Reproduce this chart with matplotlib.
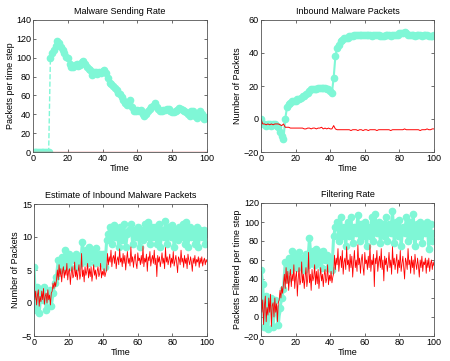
import numpy as np
import matplotlib
matplotlib.use("Agg")
import matplotlib.pyplot as plt

plt.rcParams['font.family'] = ['Liberation Sans', 'DejaVu Sans']
plt.rcParams['font.size'] = 6.5

# --- data ---
time = np.arange(0, 101)           # one sample per time unit
fine_time = np.arange(0, 100.5, 0.5)  # noisy red traces, two samples per unit

sent_cyan = [0, 0, 0, 0, 0, 0, 0, 0, 0, 0, 100,
             105, 108, 112, 118, 116, 111, 108, 105, 101, 100,
             93, 90, 90, 92, 93, 91, 92, 95, 96, 93,
             90, 88, 87, 82, 85, 85, 83, 85, 84, 86,
             87, 84, 78, 73, 72, 70, 68, 66, 63, 62,
             58, 55, 52, 50, 52, 55, 48, 43, 43, 45,
             43, 45, 40, 38, 40, 43, 46, 48, 49, 52,
             48, 46, 44, 44, 45, 45, 46, 46, 43, 42,
             42, 43, 45, 47, 46, 45, 44, 42, 40, 38,
             44, 43, 38, 36, 40, 43, 40, 35, 36, 37]
sent_red = [0.0] * 101

inbound_cyan = [0, -3, -3, -4, -3, -3, -4, -3, -3, -4, -5,
                -8, -10, -12, 0, 7, 9, 10, 11, 11, 11,
                12, 12, 13, 14, 14, 15, 16, 17, 18, 18,
                18, 18, 19, 19, 19, 19, 19, 18, 18, 17,
                16, 25, 38, 43, 45, 47, 48, 49, 49, 49,
                50, 50, 50, 51, 51, 51, 51, 51, 51, 51,
                51, 51, 51, 50, 51, 51, 51, 51, 50, 50,
                50, 51, 51, 51, 50, 51, 51, 51, 51, 52,
                52, 52, 53, 52, 51, 51, 51, 51, 50, 51,
                51, 51, 50, 51, 51, 51, 50, 50, 50, 51]
inbound_red = [0, -3, -3, -3.5, -3, -3.5, -3, -3.5, -3, -3, -3,
               -3.5, -4, -3, -5, -5, -5, -5.5, -5.5, -5.5, -5.5,
               -5.5, -5.5, -5.5, -5.5, -6, -6, -5.5, -5.5, -6, -5.5,
               -5.5, -6, -5.5, -5.5, -5, -6, -5.5, -6, -5.5, -6,
               -6, -4, -6, -6.5, -6.5, -6.5, -6.5, -6.5, -6.5, -6.5,
               -6.5, -7, -6.5, -6.5, -6.5, -7, -6.5, -6.5, -7, -6.5,
               -6.5, -7, -6.5, -6.5, -6.5, -6.5, -7, -6.5, -6.5, -6.5,
               -6.5, -6.5, -6.5, -6.5, -7, -6.5, -6.5, -6.5, -6.5, -6.5,
               -6.5, -6.5, -6, -6.5, -6.5, -6.5, -6.5, -6.5, -6.5, -6.5,
               -6.5, -7, -6.5, -6.5, -6.5, -6, -6.5, -6.5, -6, -6]

est_cyan = [5.5, -1.0, 2.5, -1.5, 1.5, 0.5, 2.5, -1.0, 1.0, 2.0, -0.5,
            1.5, 3.0, 4.0, 6.5, 5.0, 7.0, 5.5, 8.0, 6.0, 7.5,
            5.5, 7.0, 6.5, 7.5, 5.5, 7.0, 6.0, 9.3, 6.5, 8.0,
            6.0, 8.5, 7.0, 8.0, 6.0, 8.3, 6.5, 7.5, 6.0, 7.5,
            5.5, 9.5, 10.5, 11.5, 9.0, 11.8, 10.0, 11.0, 8.5, 11.5,
            9.5, 12.0, 8.5, 10.5, 11.0, 12.0, 9.0, 11.0, 10.0, 11.5,
            8.5, 11.0, 9.5, 12.0, 10.0, 12.3, 9.0, 11.5, 10.0, 11.5,
            9.0, 12.0, 8.5, 11.0, 10.0, 12.5, 9.0, 11.5, 10.0, 11.8,
            8.5, 11.0, 9.5, 11.5, 10.0, 12.0, 9.0, 12.2, 8.5, 11.5,
            10.0, 11.0, 9.0, 11.5, 8.5, 11.0, 10.0, 11.0, 9.0, 10.5]
est_red = [5.0, 0.5, 1.8, -0.3, 1.2, 2.0, -0.5, 1.0, 0.2, 1.8,
           0.5, 2.2, -0.2, 1.0, 1.5, 0.0, 2.0, 0.5, 1.2, -0.3, 1.5,
           1.8, 3.0, 2.2, 3.2, 2.5, 3.5,
           5.0, 3.5, 5.8, 4.0, 5.2, 3.2, 4.8, 5.5, 3.8, 5.0,
           4.2, 6.0, 3.5, 4.8, 5.2, 2.8, 4.5, 5.5, 3.8, 4.2,
           6.2, 4.0, 5.0, 3.5, 4.8, 5.8, 3.6, 4.4, 7.5, 4.0,
           5.0, 3.2, 5.5, 4.2, 4.8, 6.0, 3.8, 5.2, 4.0, 5.5,
           3.3, 4.6, 5.8, 4.2, 5.0, 3.6, 4.8, 5.5, 4.0, 4.5,
           6.0, 3.8, 4.8, 4.2, 5.2, 4.0, 4.6, 5.0,
           7.5, 5.8, 7.0, 6.2, 8.0, 5.5, 6.8, 7.2, 6.0, 7.8,
           5.2, 6.5, 7.0, 5.8, 8.2, 6.2, 6.8, 5.5, 7.5, 6.0,
           7.2, 5.0, 6.6, 7.8, 6.0, 6.8, 5.6, 8.5, 6.2, 7.0,
           5.4, 6.8, 7.4, 6.0, 5.2, 7.6, 6.4, 6.8, 5.8, 7.2,
           6.0, 8.6, 5.5, 6.8, 6.2, 7.4, 4.8, 7.0, 6.4, 7.8,
           5.6, 6.6, 7.2, 6.0, 8.0, 5.8, 6.8, 4.0, 7.2, 6.2,
           7.0, 5.5, 6.4, 7.6, 6.0, 6.8, 5.2, 8.4, 6.2, 7.0,
           5.8, 6.6, 7.4, 5.4, 6.8, 6.0, 7.8, 5.6, 6.4, 7.2,
           6.0, 4.6, 7.0, 6.6, 5.8, 8.0, 6.2, 6.8, 5.4, 7.2,
           6.0, 6.8, 5.2, 7.4, 6.4, 5.8, 7.0, 6.2, 4.8, 6.8,
           6.0, 7.2, 5.6, 6.6, 6.2, 7.0, 5.4, 6.8, 6.0, 7.0,
           5.6, 6.4, 6.8, 5.8, 6.6, 6.2]

filt_cyan = [50, 35, -10, 22, -13, 15, 20, -10, 18, 5, -8,
             10, 20, 30, 58, 40, 62, 50, 70, 55, 65,
             52, 68, 55, 62, 50, 66, 55, 83, 60, 70,
             55, 72, 58, 68, 52, 70, 60, 65, 52, 62,
             50, 85, 95, 100, 80, 105, 85, 95, 75, 100,
             85, 105, 78, 95, 88, 107, 80, 98, 85, 100,
             75, 95, 85, 105, 80, 108, 88, 100, 78, 98,
             85, 105, 80, 98, 88, 112, 78, 100, 85, 102,
             75, 95, 88, 105, 80, 100, 85, 108, 75, 98,
             85, 100, 78, 95, 88, 100, 72, 98, 80, 88]
filt_red = [48, 5, 18, -8, 12, 22, -5, 10, 2, 20,
            5, 24, -10, 12, 15, 0, 20, 5, 14, -5, 15,
            18, 28, 20, 32, 25, 35,
            45, 30, 52, 35, 48, 28, 42, 50, 32, 45,
            38, 55, 30, 42, 48, 22, 40, 52, 34, 38,
            58, 36, 45, 30, 42, 52, 32, 40, 68, 36,
            45, 28, 50, 38, 42, 55, 34, 48, 35, 50,
            30, 42, 52, 38, 45, 32, 44, 50, 36, 40,
            55, 34, 44, 38, 48, 36, 42, 46,
            65, 50, 62, 55, 72, 48, 60, 64, 52, 70,
            45, 58, 62, 50, 74, 55, 60, 48, 66, 52,
            64, 42, 58, 70, 52, 60, 48, 76, 55, 62,
            46, 60, 66, 52, 44, 68, 56, 60, 50, 64,
            52, 76, 48, 60, 55, 66, 32, 62, 56, 70,
            48, 58, 64, 52, 72, 50, 60, 38, 64, 55,
            62, 48, 56, 68, 52, 60, 45, 74, 55, 62,
            50, 58, 66, 46, 60, 52, 70, 48, 56, 64,
            52, 40, 62, 58, 50, 72, 55, 60, 46, 64,
            52, 60, 45, 66, 56, 50, 62, 54, 42, 60,
            52, 64, 48, 58, 55, 62, 46, 60, 52, 62,
            48, 56, 60, 50, 58, 54]

CYAN = '#7ff7d6'
RED = '#ff0000'

fig = plt.figure(figsize=(4.5, 3.61), dpi=100)
W, H = 450.0, 361.0


def make_ax(l, t, r, b):
    return fig.add_axes([l / W, 1 - b / H, (r - l) / W, (b - t) / H])


def style(ax, title, ylabel, ylim, yticks):
    ax.set_xlim(0, 100)
    ax.set_ylim(*ylim)
    ax.set_xticks([0, 20, 40, 60, 80, 100])
    ax.set_yticks(yticks)
    ax.set_title(title, fontsize=6.5, pad=4)
    ax.set_xlabel('Time', labelpad=0.5)
    ax.set_ylabel(ylabel, labelpad=1)
    ax.tick_params(direction='in', top=True, right=True, length=2.5,
                   width=0.5, pad=1.5, labelsize=6.5, color='#333333')
    for s in ax.spines.values():
        s.set_linewidth(0.6)
        s.set_color('#555555')


ax1 = make_ax(33, 20, 207, 152)
ax1.plot(time, sent_cyan, '--', color=CYAN, lw=1, marker='o', ms=4.5, mec=CYAN, mfc=CYAN)
ax1.plot(time, sent_red, color='#e05a5a', lw=1)
style(ax1, 'Malware Sending Rate', 'Packets per time step', (0, 140), range(0, 141, 20))

ax2 = make_ax(261, 20, 434, 152)
ax2.plot(time, inbound_cyan, '-', color=CYAN, lw=1.5, marker='o', ms=4.5, mec=CYAN, mfc=CYAN)
ax2.plot(time, inbound_red, color=RED, lw=0.7)
style(ax2, 'Inbound Malware Packets', 'Number of Packets', (-20, 60), range(-20, 61, 20))

ax3 = make_ax(34, 204, 207, 336)
ax3.plot(time, est_cyan, '-', color=CYAN, lw=2.2, marker='o', ms=4.5, mec=CYAN, mfc=CYAN)
ax3.plot(fine_time, est_red, color=RED, lw=0.6)
style(ax3, 'Estimate of Inbound Malware Packets', 'Number of Packets', (-5, 15), range(-5, 16, 5))

ax4 = make_ax(261, 203, 434, 336)
ax4.plot(time, filt_cyan, '-', color=CYAN, lw=2.2, marker='o', ms=4.5, mec=CYAN, mfc=CYAN)
ax4.plot(fine_time, filt_red, color=RED, lw=0.6)
style(ax4, 'Filtering Rate', 'Packets Filtered per time step', (-20, 120), range(-20, 121, 20))

fig.savefig('out.png', dpi=100)
